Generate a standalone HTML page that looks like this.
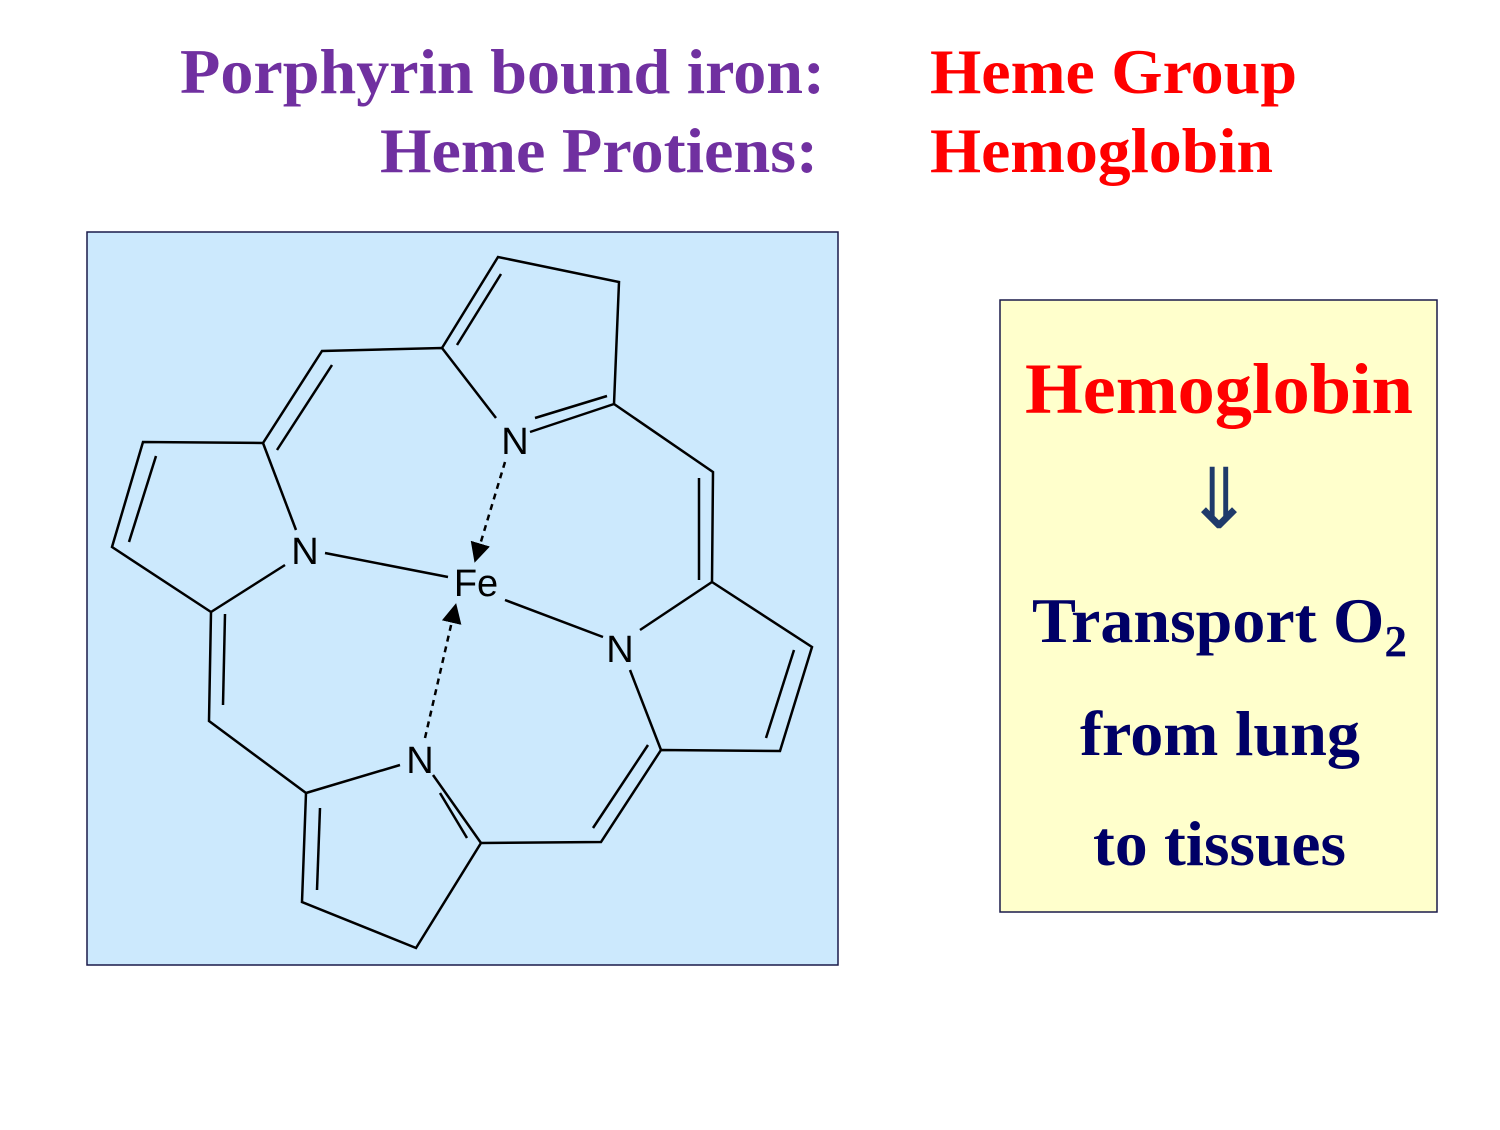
<!DOCTYPE html>
<html><head><meta charset="utf-8"><style>
html,body{margin:0;padding:0;background:#fff;}
body{width:1500px;height:1125px;overflow:hidden;position:relative;font-family:"Liberation Serif",serif;}
</style></head><body>
<svg width="1500" height="1125" viewBox="0 0 1500 1125" xmlns="http://www.w3.org/2000/svg">
<defs><marker id="ah" markerWidth="8" markerHeight="8" refX="6" refY="4" orient="auto"><path d="M0,0 L8,4 L0,8 z" fill="#000"/></marker></defs>
<g font-family="Liberation Serif, serif" font-weight="bold" font-size="64">
<text x="180" y="93" textLength="645" lengthAdjust="spacingAndGlyphs" fill="#7030a0">Porphyrin bound iron:</text>
<text x="380" y="172" textLength="438" lengthAdjust="spacingAndGlyphs" fill="#7030a0">Heme Protiens:</text>
<text x="930" y="93" textLength="367" lengthAdjust="spacingAndGlyphs" fill="#ff0000">Heme Group</text>
<text x="930" y="172" textLength="343" lengthAdjust="spacingAndGlyphs" fill="#ff0000">Hemoglobin</text>
</g>
<rect x="87" y="232" width="751" height="733" fill="#cce9fd" stroke="#1a1a4a" stroke-width="1.5"/>
<g stroke="#000" stroke-width="2.5" fill="none">
<polyline points="442,348 498,257 619,282 614,404 530,432"/>
<line x1="457" y1="345" x2="501" y2="274"/>
<line x1="535" y1="418" x2="607" y2="396"/>
<polyline points="496,418 442,348 322,351 263,443 143,442 112,547 211,612 209,721 306,793 302,902 416,948 481,843 601,842 661,750 780,751 812,647 712,582 713,472 614,404"/>
<line x1="332" y1="365" x2="277" y2="450"/>
<line x1="156" y1="456" x2="129" y2="542"/>
<line x1="225" y1="614" x2="223" y2="705"/>
<line x1="320" y1="808" x2="317" y2="890"/>
<line x1="467" y1="838" x2="440" y2="793"/>
<line x1="593" y1="828" x2="648" y2="745"/>
<line x1="766" y1="738" x2="794" y2="650"/>
<line x1="699" y1="580" x2="699" y2="478"/>
<line x1="263" y1="443" x2="296" y2="530"/>
<line x1="211" y1="612" x2="285" y2="565"/>
<line x1="306" y1="793" x2="400" y2="765"/>
<line x1="433" y1="775" x2="481" y2="843"/>
<line x1="661" y1="750" x2="630" y2="670"/>
<line x1="712" y1="582" x2="640" y2="630"/>
<line x1="325" y1="553" x2="448" y2="577"/>
<line x1="505" y1="600" x2="603" y2="637"/>
<line x1="505" y1="462" x2="476" y2="558" stroke-dasharray="6,5" marker-end="url(#ah)"/>
<line x1="425" y1="738" x2="455" y2="608" stroke-dasharray="6,5" marker-end="url(#ah)"/>
</g>
<g font-family="Liberation Sans, sans-serif" font-size="38" fill="#000" text-anchor="middle">
<text x="515" y="454">N</text>
<text x="305" y="564">N</text>
<text x="476" y="596">Fe</text>
<text x="620" y="662">N</text>
<text x="420" y="773">N</text>
</g>
<rect x="1000" y="300" width="437" height="612" fill="#ffffcc" stroke="#1a1a4a" stroke-width="1.5"/>
<g font-family="Liberation Serif, serif" font-weight="bold">
<text x="1025" y="413" font-size="72" textLength="388" lengthAdjust="spacingAndGlyphs" fill="#ff0000">Hemoglobin</text>
<text x="1219" y="528" font-size="84" font-weight="normal" text-anchor="middle" fill="#1f3a6a" font-family="DejaVu Sans, sans-serif">⇓</text>
<text x="1032" y="642" font-size="64" textLength="375" lengthAdjust="spacingAndGlyphs" fill="#000066">Transport O<tspan font-size="44" dy="14">2</tspan></text>
<text x="1080" y="755" font-size="64" textLength="280" lengthAdjust="spacingAndGlyphs" fill="#000066">from lung</text>
<text x="1093" y="865" font-size="64" textLength="253" lengthAdjust="spacingAndGlyphs" fill="#000066">to tissues</text>
</g>
</svg>
</body></html>
